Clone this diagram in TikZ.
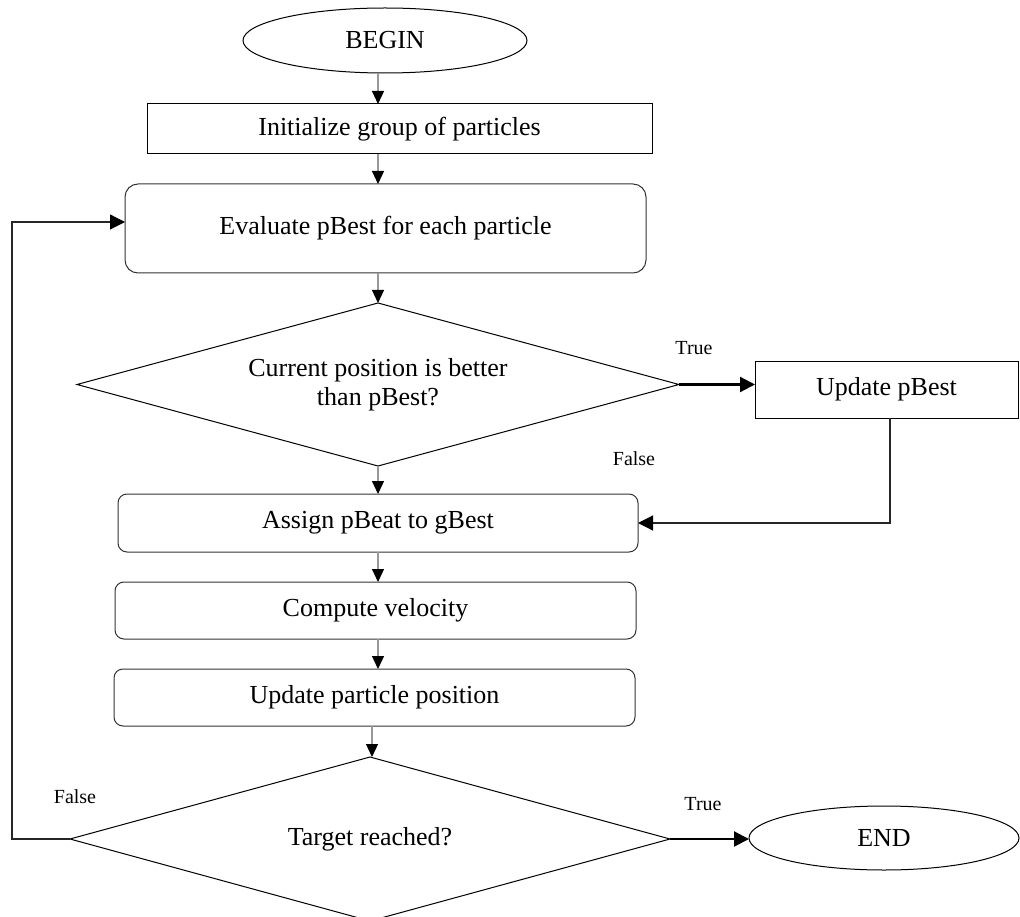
\documentclass[tikz,border=0pt]{standalone}
\usepackage{fontspec}
\setmainfont{Liberation Serif}
\usetikzlibrary{shapes.geometric,arrows.meta}
\begin{document}
\begin{tikzpicture}[x=1pt,y=-1pt,
  every node/.style={inner sep=0pt, outer sep=0pt, font=\fontsize{26}{29}\selectfont},
  plainbox/.style={draw=black, line width=1pt, rectangle},
  roundbox/.style={draw=black!80, line width=1pt, rectangle, rounded corners=13pt},
  ovalnode/.style={draw=black, line width=1pt, ellipse},
  decision/.style={draw=black, line width=1pt, diamond, shape aspect=3.67, align=center},
  lbl/.style={font=\fontsize{20}{22}\selectfont},
  downarr/.style={draw=black!40, line width=1.2pt, -{Triangle[length=13pt,width=12pt,color=black]}},
  thickarr/.style={draw=black, line width=2.2pt, -{Triangle[length=15pt,width=15pt,color=black]}},
  thinarr/.style={draw=black!85, line width=1.2pt, -{Triangle[length=15pt,width=15pt,color=black]}}
]
\useasboundingbox (0,0) rectangle (1020,917);

\node[ovalnode, minimum width=284pt, minimum height=65pt] (begin) at (385,40.5) {BEGIN};
\node[plainbox, minimum width=505pt, minimum height=50pt] (init) at (399.5,129) {Initialize group of particles};
\node[roundbox, minimum width=521pt, minimum height=89pt] (eval) at (385.5,228.5) {Evaluate pBest for each particle};
\node[decision, minimum width=602pt, minimum height=163pt] (d1) at (378,384.5) {Current position is better\\than pBest?};
\node[plainbox, minimum width=263pt, minimum height=57pt] (upd) at (886.5,389.5) {Update pBest};
\node[roundbox, rounded corners=9pt, minimum width=520pt, minimum height=58pt] (assign) at (378,523) {Assign pBeat to gBest};
\node[roundbox, rounded corners=9pt, minimum width=521pt, minimum height=57pt] (comp) at (375.5,610.5) {Compute velocity};
\node[roundbox, rounded corners=9pt, minimum width=521pt, minimum height=57pt] (pos) at (374.5,697.5) {Update particle position};
\node[decision, minimum width=600pt, minimum height=164pt] (d2) at (370,839) {Target reached?};
\node[ovalnode, minimum width=270pt, minimum height=64pt] (end) at (884,838) {END};

\coordinate (ax) at (378,0);
\coordinate (bx) at (372,0);
\coordinate (loopx) at (12,0);
\coordinate (loopy) at (0,222);
\coordinate (updx) at (890,0);

\draw[downarr] (begin.south -| ax) -- (init.north -| ax);
\draw[downarr] (init.south -| ax) -- (eval.north -| ax);
\draw[downarr] (eval.south -| ax) -- (d1.north);
\draw[downarr] (d1.south) -- (assign.north -| ax);
\draw[downarr] (assign.south -| ax) -- (comp.north -| ax);
\draw[downarr] (comp.south -| ax) -- (pos.north -| ax);
\draw[downarr] (pos.south -| bx) -- (d2.north -| bx);

\draw[thickarr] (d1.east) -- (d1.east -| upd.west);
\draw[thinarr] (upd.south -| updx) -- (updx |- assign.east) -- (assign.east);
\draw[thinarr] (d2.west) -- (d2.west -| loopx) -- (loopx |- loopy) -- (loopy -| eval.west);
\draw[thickarr] (d2.east) -- (d2.east -| end.west);

\node[lbl] (t1) at (694,348) {True};
\node[lbl] (f1) at (634,459) {False};
\node[lbl] (f2) at (75,797) {False};
\node[lbl] (t2) at (703,804) {True};
\end{tikzpicture}
\end{document}
